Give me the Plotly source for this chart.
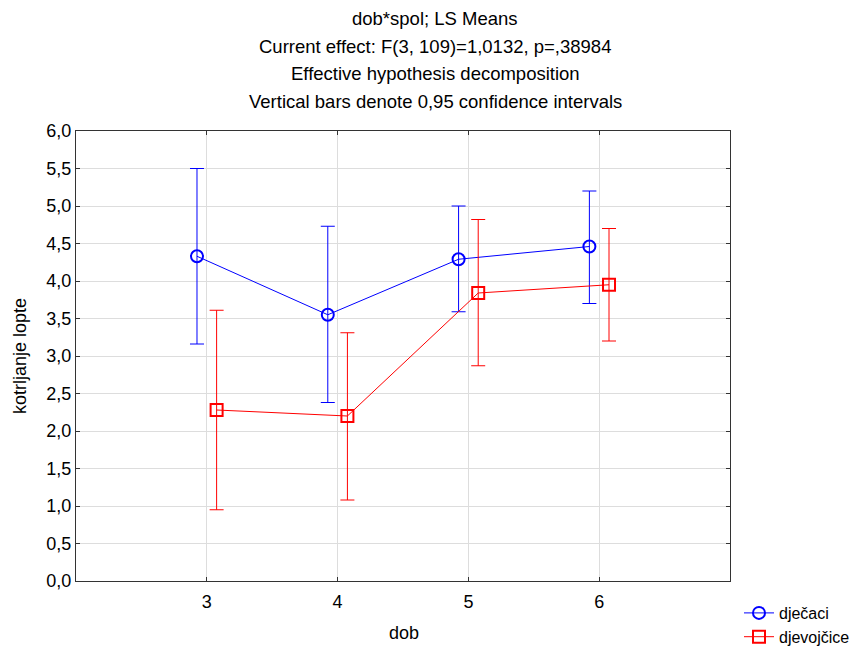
import plotly.graph_objects as go

dob = [3, 4, 5, 6]
dob_labels = ["3", "4", "5", "6"]
djecaci_mean = [4.33, 3.55, 4.29, 4.46]
djecaci_upper = [5.50, 4.73, 5.00, 5.20]
djecaci_lower = [3.16, 2.38, 3.59, 3.70]
djevojcice_mean = [2.28, 2.20, 3.84, 3.95]
djevojcice_upper = [3.61, 3.31, 4.82, 4.70]
djevojcice_lower = [0.95, 1.08, 2.87, 3.20]
y_ticks = [i * 0.5 for i in range(13)]
title_lines = ["dob*spol; LS Means",
               "Current effect: F(3, 109)=1,0132, p=,38984",
               "Effective hypothesis decomposition",
               "Vertical bars denote 0,95 confidence intervals"]

offset = 0.075
font = "Liberation Sans, Arial, sans-serif"
FS = 18

# the page body has an 8px margin, so the figure is made 8px smaller
PAGE_OFF = 8
W, H = 868 - PAGE_OFF, 646 - PAGE_OFF
L, R, T, B = 76, 730, 131, 581  # plot area in page pixels

def trace(name, mean, up, lo, color, symbol, shift):
    return go.Scatter(
        x=[d + shift for d in dob], y=mean, name=name, mode="lines+markers",
        line=dict(color=color, width=1),
        marker=dict(symbol=symbol, size=12, color=color,
                    line=dict(color=color, width=2)),
        error_y=dict(type="data", symmetric=False,
                     array=[u - m for u, m in zip(up, mean)],
                     arrayminus=[m - l for m, l in zip(mean, lo)],
                     color=color, thickness=1, width=7),
    )

fig = go.Figure()
fig.add_trace(trace("dječaci", djecaci_mean, djecaci_upper, djecaci_lower,
                    "#0000ff", "circle-open", -offset))
fig.add_trace(trace("djevojčice", djevojcice_mean, djevojcice_upper, djevojcice_lower,
                    "#ff0000", "square-open", offset))

def py(p):
    return (B - p) / float(B - T)

def px(p):
    return (p - L) / float(R - L)

annotations = []
for line, ypix in zip(title_lines, [19, 46, 74, 101]):
    annotations.append(dict(text=line, xref="paper", yref="paper",
                            x=px(435), y=py(ypix), xanchor="center", yanchor="middle",
                            showarrow=False, font=dict(family=font, size=18.5, color="#000")))
annotations.append(dict(text="dob", xref="paper", yref="paper", x=px(404), y=py(633),
                        xanchor="center", yanchor="middle", showarrow=False,
                        font=dict(family=font, size=FS, color="#000")))
annotations.append(dict(text="kotrljanje lopte", xref="paper", yref="paper", x=px(20), y=py(356),
                        xanchor="center", yanchor="middle", textangle=-90, showarrow=False,
                        font=dict(family=font, size=FS, color="#000")))

fig.update_layout(
    width=W, height=H,
    margin=dict(l=L - PAGE_OFF, r=W - (R - PAGE_OFF), t=T - PAGE_OFF,
                b=H - (B - PAGE_OFF), autoexpand=False),
    paper_bgcolor="white", plot_bgcolor="white",
    separators=",.",
    font=dict(family=font, size=FS, color="#000"),
    annotations=annotations,
    xaxis=dict(range=[2, 7], tickvals=dob, ticktext=dob_labels,
               showgrid=True, gridcolor="#dddddd", gridwidth=1,
               showline=True, linecolor="#333", linewidth=1, mirror="ticks",
               ticks="inside", ticklen=4, tickcolor="#333",
               zeroline=False, automargin=False, ticklabelstandoff=4,
               tickfont=dict(size=FS)),
    yaxis=dict(range=[0, 6], tickvals=y_ticks, tickformat=".1f",
               showgrid=True, gridcolor="#dddddd", gridwidth=1,
               showline=True, linecolor="#333", linewidth=1, mirror="ticks",
               ticks="inside", ticklen=4, tickcolor="#333",
               zeroline=False, automargin=False,
               tickfont=dict(size=FS)),
    legend=dict(xref="container", yref="container",
                x=(739 - PAGE_OFF) / W, y=1 - (596 - PAGE_OFF) / H,
                xanchor="left", yanchor="top",
                bgcolor="rgba(0,0,0,0)", font=dict(size=16),
                tracegroupgap=0, itemwidth=30),
    showlegend=True,
)

fig.write_html("out.html")
